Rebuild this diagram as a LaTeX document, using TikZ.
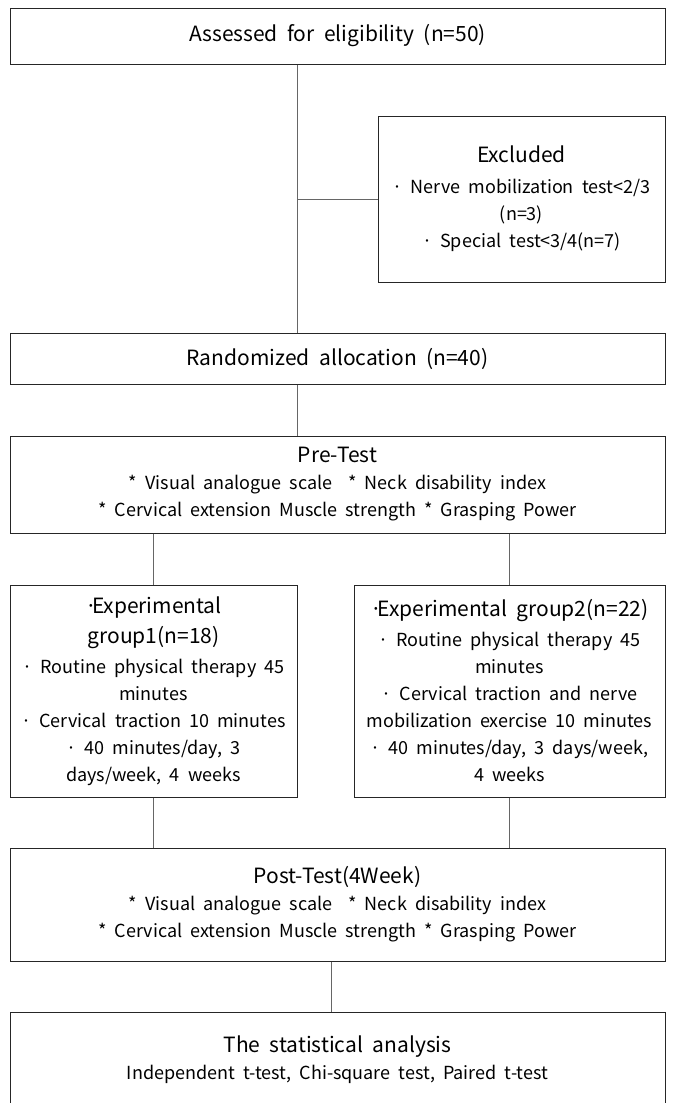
\documentclass[tikz,border=0pt]{standalone}
\usepackage{fontspec}
\setmainfont[WordSpace=2]{Noto Sans CJK KR}
\usetikzlibrary{calc}
\tikzset{%
  flowbox/.style = {shape=rectangle, draw=black!85, line width=1pt,%
                    align=center, inner sep=0pt},%
  widebox/.style = {flowbox, minimum width=655pt},%
  groupbox/.style = {flowbox, minimum height=212pt},%
  head/.style     = {font=\fontsize{21}{27}\selectfont},%
  link/.style     = {draw=black!60, line width=1pt}%
}
\newcommand{\hd}[1]{{\fontsize{21}{27}\selectfont #1}}

\begin{document}
\begin{tikzpicture}[x=1pt,y=-1pt,
	every node/.style = {font=\fontsize{18}{27}\selectfont}]
	\useasboundingbox (0,0) rectangle (673,1103);
	\node[widebox, minimum height=56pt, head] (assess) at (337.5,36)
		{Assessed for eligibility (n=50)};
	\node[flowbox, minimum width=287pt, minimum height=166pt] (excl) at (521.5,199)
		{\hd{Excluded}\\[4pt] · Nerve mobilization test<2/3\\ (n=3)\\ · Special test<3/4(n=7)};
	\node[widebox, minimum height=51pt, head] (rand) at (337.5,358.5)
		{Randomized allocation (n=40)};
	\node[widebox, minimum height=97pt] (pre) at (337.5,484.5)
		{\hd{Pre-Test}\\ * Visual analogue scale \ * Neck disability index\\
		 * Cervical extension Muscle strength * Grasping Power};
	\node[groupbox, minimum width=287pt] (grpone) at (153.5,691)
		{\hd{·\kern-5pt Experimental}\\[3pt] \hd{group1(n=18)}\\[3pt] · Routine physical therapy 45\\ minutes\\
		 · Cervical traction 10 minutes\\ · 40 minutes/day, 3\\ days/week, 4 weeks};
	\node[groupbox, minimum width=311pt] (grptwo) at (509.5,691)
		{\hd{·\kern-5pt Experimental group2(n=22)}\\[3pt] · Routine physical therapy 45\\ minutes\\
		 · Cervical traction and nerve\\ mobilization exercise 10 minutes\\
		 · 40 minutes/day, 3 days/week,\\ 4 weeks};
	\node[widebox, minimum height=113pt] (post) at (337.5,904.5)
		{\hd{Post-Test(4Week)}\\ * Visual analogue scale \ * Neck disability index\\
		 * Cervical extension Muscle strength * Grasping Power};
	\node[widebox, minimum height=96pt] (stat) at (337.5,1060)
		{\hd{The statistical analysis}\\ Independent t-test, Chi-square test, Paired t-test};
	\coordinate (postout) at ($(post.south)+(-6.5,0)$);
	\draw[link] (assess.south -| grpone.east) -- (rand.north -| grpone.east);
	\draw[link] (excl.west) -- (excl.west -| grpone.east);
	\draw[link] (rand.south -| grpone.east) -- (pre.north -| grpone.east);
	\draw[link] (pre.south -| grpone.north) -- (grpone.north);
	\draw[link] (pre.south -| grptwo.north) -- (grptwo.north);
	\draw[link] (grpone.south) -- (post.north -| grpone.south);
	\draw[link] (grptwo.south) -- (post.north -| grptwo.south);
	\draw[link] (postout) -- (stat.north -| postout);
\end{tikzpicture}
\end{document}
